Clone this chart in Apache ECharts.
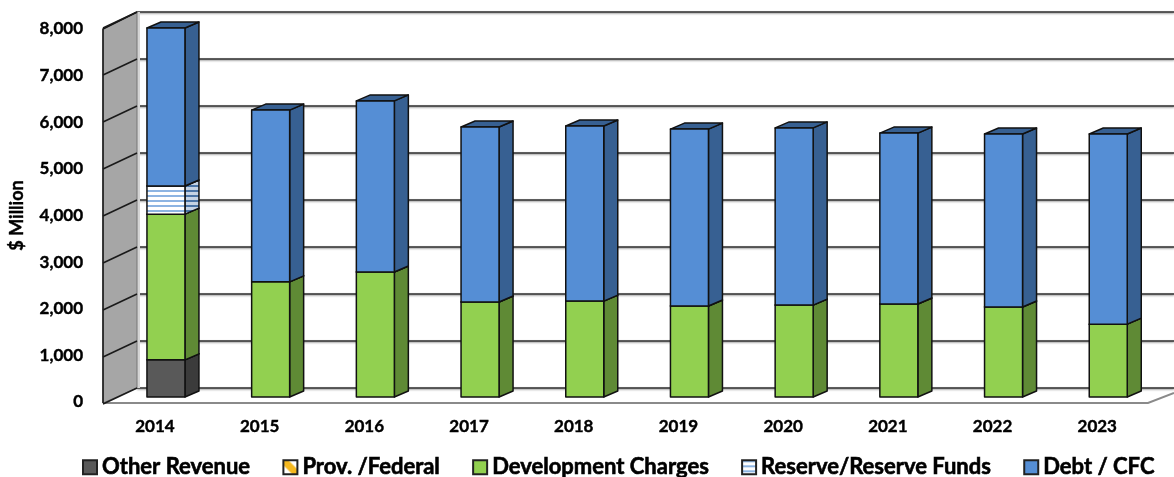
<!DOCTYPE html>
<html>
<head>
<meta charset="utf-8">
<style>
  html, body { margin: 0; padding: 0; background: #fff; }
  #main { width: 1174px; height: 477px; }
</style>
<script src="https://cdn.jsdelivr.net/npm/echarts@6/dist/echarts.min.js"></script>
</head>
<body>
<div id="main"></div>
<script>
var years = ['2014', '2015', '2016', '2017', '2018', '2019', '2020', '2021', '2022', '2023'];
var otherRevenue = [790, 0, 0, 0, 0, 0, 0, 0, 0, 0];
var provFederal = [0, 0, 0, 0, 0, 0, 0, 0, 0, 0];
var developmentCharges = [3100, 2450, 2660, 2020, 2040, 1935, 1955, 1980, 1915, 1550];
var reserveFunds = [600, 0, 0, 0, 0, 0, 0, 0, 0, 0];
var debtCfc = [3360, 3655, 3640, 3725, 3725, 3765, 3770, 3635, 3680, 4045];
var yTicks = [0, 1000, 2000, 3000, 4000, 5000, 6000, 7000, 8000];

// striped fill for the reserve segment
function stripes(bg, line) {
  var c = document.createElement('canvas');
  c.width = 8;
  c.height = 5;
  var ctx = c.getContext('2d');
  ctx.fillStyle = bg;
  ctx.fillRect(0, 0, 8, 5);
  ctx.fillStyle = line;
  ctx.fillRect(0, 0, 8, 2);
  return { image: c, repeat: 'repeat' };
}

// diagonal fill, only seen in the legend
function diagonal() {
  var c = document.createElement('canvas');
  c.width = 14;
  c.height = 14;
  var ctx = c.getContext('2d');
  ctx.fillStyle = '#fff';
  ctx.fillRect(0, 0, 14, 14);
  ctx.fillStyle = '#f5b81f';
  ctx.beginPath();
  ctx.moveTo(0, 0);
  ctx.lineTo(5, 0);
  ctx.lineTo(14, 9);
  ctx.lineTo(14, 14);
  ctx.lineTo(9, 14);
  ctx.lineTo(0, 5);
  ctx.closePath();
  ctx.fill();
  return { image: c, repeat: 'repeat' };
}

var depthX = 14, depthY = -6;

function barRender(front, side, top) {
  return function (params, api) {
    var i = api.value(0);
    if (api.value(2) <= api.value(1)) return;
    var a = api.coord([i, api.value(1)]);
    var b = api.coord([i, api.value(2)]);
    var w = 38;
    var l = a[0] - w / 2, r = a[0] + w / 2;
    var edge = { stroke: '#111', lineWidth: 1.5, lineJoin: 'round' };
    return {
      type: 'group',
      children: [
        {
          type: 'polygon',
          shape: { points: [[r, a[1]], [r + depthX, a[1] + depthY], [r + depthX, b[1] + depthY], [r, b[1]]] },
          style: Object.assign({ fill: side }, edge)
        },
        {
          type: 'polygon',
          shape: { points: [[l, b[1]], [l + depthX, b[1] + depthY], [r + depthX, b[1] + depthY], [r, b[1]]] },
          style: Object.assign({ fill: top }, edge)
        },
        {
          type: 'rect',
          shape: { x: l, y: b[1], width: w, height: a[1] - b[1] },
          style: Object.assign({ fill: front }, edge)
        }
      ]
    };
  };
}

// stack the arrays on each other
var stackBase = years.map(function () { return 0; });
function stackData(values) {
  return values.map(function (v, i) {
    var row = [i, stackBase[i], stackBase[i] + v];
    stackBase[i] += v;
    return row;
  });
}

function barSeries(name, values, front, side, top) {
  return {
    name: name,
    type: 'custom',
    xAxisIndex: 2,
    yAxisIndex: 2,
    z: 5,
    itemStyle: { color: front, borderColor: '#222', borderWidth: 1.5 },
    encode: { x: 0, y: 2 },
    renderItem: barRender(front, side, top),
    data: stackData(values)
  };
}

var wallX = -34, wallY = 16;

var option = {
  animation: false,
  backgroundColor: '#fff',
  textStyle: { fontFamily: 'Lato' },
  legend: {
    left: 82,
    top: 456,
    itemWidth: 14,
    itemHeight: 14,
    itemGap: 32,
    icon: 'rect',
    padding: 0,
    textStyle: { fontFamily: 'Lato', fontWeight: 'bold', fontSize: 22, color: '#000', textBorderColor: '#000', textBorderWidth: 0.6 },
    data: ['Other Revenue', 'Prov. /Federal', 'Development Charges', 'Reserve/Reserve Funds', 'Debt / CFC']
  },
  grid: [
    { left: 137, right: 0, top: 12, height: 376 },  // back wall
    { left: 103, width: 34, top: 29, height: 373 }, // front edge, carries the labels
    { left: 113.6, width: 1047, top: 21, height: 376 } // plane of the bars
  ],
  xAxis: [
    { gridIndex: 0, type: 'value', min: 0, max: 1, show: false },
    { gridIndex: 1, type: 'value', min: 0, max: 1, show: false },
    {
      gridIndex: 2,
      type: 'category',
      data: years,
      axisLine: { show: false },
      axisTick: { show: false },
      axisLabel: { margin: 21, padding: [0, 22, 0, 0], fontFamily: 'Lato', fontWeight: 'bold', fontSize: 17, color: '#000', textBorderColor: '#000', textBorderWidth: 0.4 }
    }
  ],
  yAxis: [
    {
      gridIndex: 0,
      type: 'value',
      min: 0,
      max: 8000,
      interval: 1000,
      axisLabel: { show: false },
      axisLine: { show: false },
      axisTick: { show: false },
      splitLine: { show: true, lineStyle: { color: '#2e2e2e', width: 1.5, shadowColor: 'rgba(0,0,0,0.45)', shadowBlur: 2, shadowOffsetY: 1 } }
    },
    {
      gridIndex: 1,
      type: 'value',
      min: 0,
      max: 8000,
      interval: 1000,
      name: '$ Million',
      nameLocation: 'middle',
      nameGap: 77,
      nameTextStyle: { fontFamily: 'Lato', fontWeight: 'bold', fontSize: 18, color: '#000', textBorderColor: '#000', textBorderWidth: 0.4 },
      axisLine: { show: false },
      axisTick: { show: false },
      splitLine: { show: false },
      axisLabel: {
        margin: 20,
        fontFamily: 'Lato',
        fontWeight: 'bold',
        fontSize: 17,
        color: '#000',
        textBorderColor: '#000',
        textBorderWidth: 0.4,
        formatter: function (v) { return v.toLocaleString('en-US'); }
      }
    },
    { gridIndex: 2, type: 'value', min: 0, max: 8000, show: false }
  ],
  series: [
    // left wall and floor
    {
      type: 'custom',
      xAxisIndex: 0,
      yAxisIndex: 0,
      z: 1,
      silent: true,
      legendHoverLink: false,
      data: [[0, 0]],
      renderItem: function (params, api) {
        var b0 = api.coord([0, 0]);
        var b1 = api.coord([0, 8000]);
        var br = api.coord([1, 0]);
        return {
          type: 'group',
          children: [
            {
              type: 'polyline',
              shape: { points: [[b0[0] + wallX, b0[1] + wallY - 1], [br[0] - 26, br[1] + wallY - 1], [br[0], br[1] + 5]] },
              style: { fill: null, stroke: '#8a8a8a', lineWidth: 2 }
            },
            {
              type: 'rect',
              shape: { x: b0[0], y: b1[1], width: 3, height: b0[1] - b1[1] },
              style: { fill: '#d4d4d4' }
            },
            {
              type: 'polygon',
              shape: { points: [[b1[0], b1[1]], [b0[0], b0[1]], [b0[0] + wallX, b0[1] + wallY - 1], [b1[0] + wallX, b1[1] + wallY + 1]] },
              style: { fill: '#a6a6a6', stroke: '#777', lineWidth: 1 }
            },
            {
              type: 'polyline',
              shape: { points: [[b1[0], b1[1]], [b1[0] + wallX, b1[1] + wallY + 1], [b0[0] + wallX, b0[1] + wallY - 1]] },
              style: { fill: null, stroke: '#111', lineWidth: 1.5 }
            }
          ]
        };
      }
    },
    // tick lines running across the wall
    {
      type: 'custom',
      xAxisIndex: 0,
      yAxisIndex: 0,
      z: 2,
      silent: true,
      data: yTicks.map(function (v) { return [0, v]; }),
      renderItem: function (params, api) {
        var p = api.coord([0, api.value(1)]);
        return {
          type: 'line',
          shape: { x1: p[0], y1: p[1], x2: p[0] + wallX, y2: p[1] + wallY },
          style: { stroke: '#1a1a1a', lineWidth: 1.5 }
        };
      }
    },
    barSeries('Other Revenue', otherRevenue, '#595959', '#3b3b3b', '#3b3b3b'),
    barSeries('Prov. /Federal', provFederal, diagonal(), '#b8860b', '#b8860b'),
    barSeries('Development Charges', developmentCharges, '#92d050', '#5f8a35', '#5f8a35'),
    barSeries('Reserve/Reserve Funds', reserveFunds, stripes('#ffffff', '#8db4e2'), stripes('#c5d3e4', '#4a74a6'), '#3d6797'),
    barSeries('Debt / CFC', debtCfc, '#558ed5', '#376092', '#376092')
  ]
};

var chart = echarts.init(document.getElementById('main'));
chart.setOption(option);
</script>
</body>
</html>
